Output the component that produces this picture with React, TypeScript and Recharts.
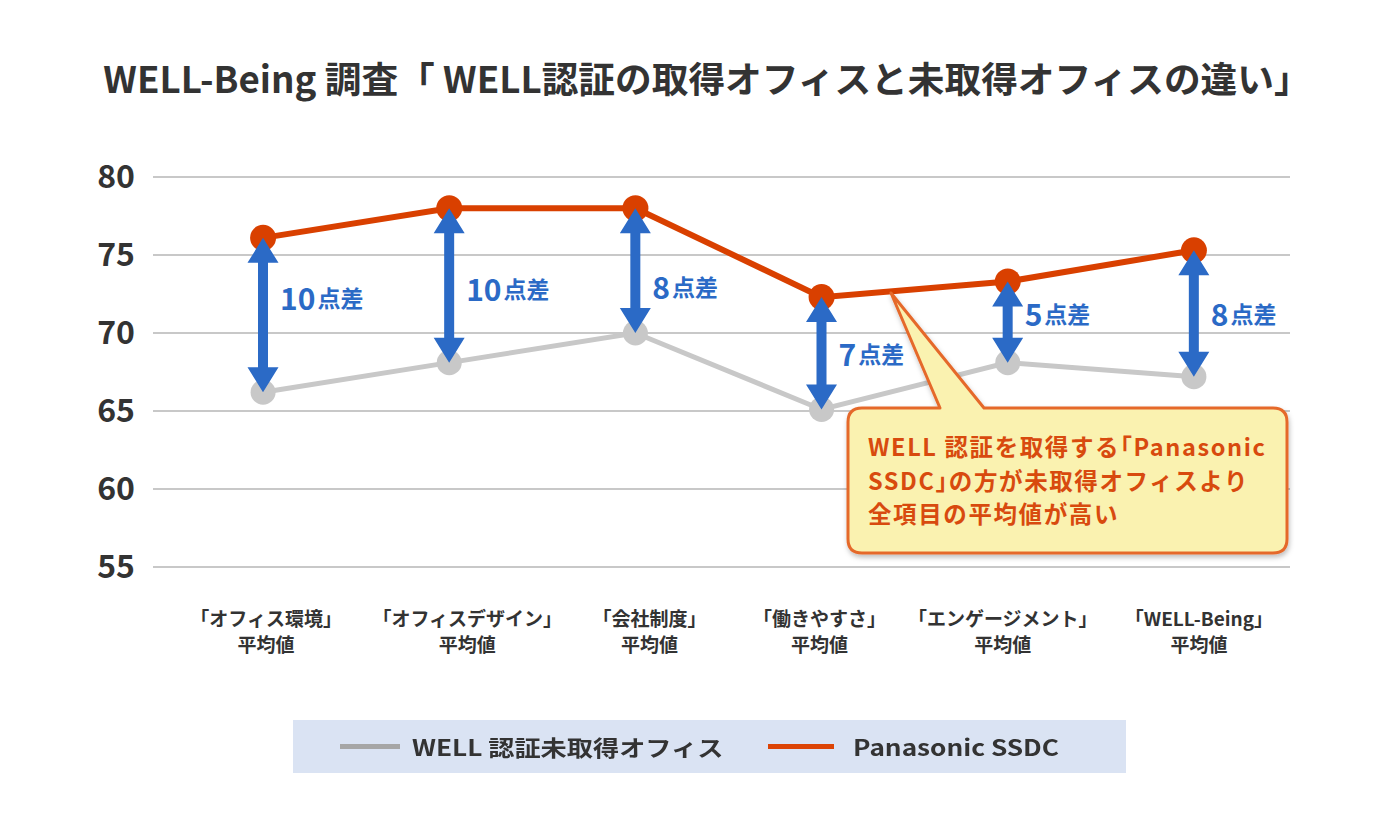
import React from "react";
import { ComposedChart, Line, Bar, XAxis, YAxis, CartesianGrid } from "recharts";

const CATEGORIES = ["「オフィス環境」", "「オフィスデザイン」", "「会社制度」", "「働きやすさ」", "「エンゲージメント」", "「WELL-Being」"];
const UNCERTIFIED = [66.2, 68.1, 70.0, 65.1, 68.1, 67.2];
const SSDC = [76.1, 78.0, 78.0, 72.3, 73.3, 75.3];
const GAP_LABELS = ["10", "10", "8", "7", "5", "8"];
// where each gap label sits, in axis units
const GAP_LABEL_AT = [72.3, 72.9, 73.0, 68.7, 71.3, 71.3];
const Y_TICKS = [55, 60, 65, 70, 75, 80];

const FONT = '"Noto Sans CJK JP", "Noto Sans", sans-serif';
const GRAY = "#C8C8C8";
const ORANGE = "#D94000";
const BLUE = "#2B6AC6";
// the original's category labels are hand-placed, not exactly under the points
const TICK_DX = [3, 18, 14, -2, -5, 5];

const data = CATEGORIES.map((name, i) => ({
  name,
  uncert: UNCERTIFIED[i],
  ssdc: SSDC[i],
  gap: GAP_LABELS[i],
  labelAt: GAP_LABEL_AT[i],
}));

const XTick = (props: any) => {
  const { x, y, payload, index } = props;
  const dx = TICK_DX[index] || 0;
  const common = { textAnchor: "middle" as const, fontSize: 19, fontWeight: 700, fill: "#333", fontFamily: FONT };
  return (
    <g transform={`translate(${x + dx},${y})`}>
      <text {...common} x={0} y={59}>{payload.value}</text>
      <text {...common} x={0} y={85}>平均値</text>
    </g>
  );
};

const ArrowShape = (props: any) => {
  const { x, y, width, height, payload } = props;
  const cx = x + width / 2;
  const top = Math.min(y, y + height);
  const bottom = Math.max(y, y + height);
  const hw = 15.5, hh = 25, sw = 5;
  const d = `M${cx},${top} L${cx + hw},${top + hh} L${cx + sw},${top + hh} L${cx + sw},${bottom - hh} L${cx + hw},${bottom - hh} L${cx},${bottom} L${cx - hw},${bottom - hh} L${cx - sw},${bottom - hh} L${cx - sw},${top + hh} L${cx - hw},${top + hh} Z`;
  const perUnit = (bottom - top) / (payload.ssdc - payload.uncert);
  const ly = top + (payload.ssdc - payload.labelAt) * perUnit;
  return (
    <g>
      <path d={d} fill={BLUE} />
      <text x={cx + 17} y={ly} dominantBaseline="central" fill={BLUE} fontWeight={700} fontFamily={FONT}>
        <tspan fontSize={30}>{payload.gap}</tspan>
        <tspan fontSize={23} dx={2}>点差</tspan>
      </text>
    </g>
  );
};

function Callout() {
  const l = 848, r = 1287, t = 408, b = 553, rad = 14;
  const tipX = 891, tipY = 293, baseL = 940, baseR = 984;
  const d = `M${l + rad},${t} L${baseL},${t} L${tipX},${tipY} L${baseR},${t} L${r - rad},${t} Q${r},${t} ${r},${t + rad} L${r},${b - rad} Q${r},${b} ${r - rad},${b} L${l + rad},${b} Q${l},${b} ${l},${b - rad} L${l},${t + rad} Q${l},${t} ${l + rad},${t} Z`;
  const lines = ["WELL 認証を取得する「Panasonic", "SSDC」の方が未取得オフィスより", "全項目の平均値が高い"];
  return (
    <svg width={1400} height={840} style={{ position: "absolute", left: 0, top: 0, pointerEvents: "none" }}>
      <defs>
        <filter id="sh" x="-10%" y="-10%" width="120%" height="130%">
          <feDropShadow dx="1" dy="3" stdDeviation="2.5" floodColor="#000" floodOpacity="0.25" />
        </filter>
      </defs>
      <path d={d} fill="#FAF2B0" stroke="#E5692B" strokeWidth={3} strokeLinejoin="round" filter="url(#sh)" />
      {lines.map((s, i) => (
        <text key={i} x={868} y={446 + i * 33.5} dominantBaseline="central" fontSize={23.5} fontWeight={700}
          fill="#D84A0E" fontFamily={FONT} letterSpacing={1.6} style={{ fontFeatureSettings: '"halt"' }}>
          {s}
        </text>
      ))}
    </svg>
  );
}

const legendText: React.CSSProperties = {
  position: "absolute", top: 11, fontSize: 22, fontWeight: 700, color: "#333", lineHeight: "30px",
  whiteSpace: "nowrap", transform: "scaleX(1.19)", transformOrigin: "left center",
};

export default function App() {
  return (
    <div style={{ position: "absolute", left: 0, top: 0, width: 1400, height: 840, background: "#fff", fontFamily: FONT }}>
      <div style={{ position: "absolute", left: 7, top: 55, width: 1400, textAlign: "center", fontSize: 36.7, fontWeight: 700, color: "#333", lineHeight: "44px", whiteSpace: "nowrap" }}>
        WELL-Being 調査「 WELL認証の取得オフィスと未取得オフィスの違い」
      </div>
      <div style={{ position: "absolute", left: 0, top: 0 }}>
        <ComposedChart width={1400} height={840} data={data} margin={{ top: 177, right: 110, bottom: 183, left: 93 }}>
          <CartesianGrid vertical={false} stroke={GRAY} strokeWidth={2} />
          <XAxis dataKey="name" axisLine={false} tickLine={false} tickSize={0} tickMargin={0} height={90}
            padding={{ left: 17, right: 3 }} tick={<XTick />} interval={0} />
          <YAxis domain={[55, 80]} ticks={Y_TICKS} axisLine={false} tickLine={false} tickSize={0} tickMargin={18}
            width={60} tick={{ fontSize: 32, fontWeight: 700, fill: "#333", fontFamily: FONT }} />
          <Line dataKey="uncert" stroke={GRAY} strokeWidth={5} dot={{ r: 12.5, fill: GRAY, stroke: "none" }}
            activeDot={false} isAnimationActive={false} />
          <Line dataKey="ssdc" stroke={ORANGE} strokeWidth={6} dot={{ r: 13, fill: ORANGE, stroke: "none" }}
            activeDot={false} isAnimationActive={false} />
          <Bar dataKey={(d: any) => [d.uncert, d.ssdc]} barSize={32} shape={<ArrowShape />}
            isAnimationActive={false} zIndex={600} />
        </ComposedChart>
      </div>
      <Callout />
      <div style={{ position: "absolute", left: 293, top: 720, width: 833, height: 53, background: "#DAE3F3" }}>
        <div style={{ position: "absolute", left: 47, top: 24, width: 60, height: 5, background: "#A6A6A6" }} />
        <div style={{ ...legendText, left: 119 }}>WELL 認証未取得オフィス</div>
        <div style={{ position: "absolute", left: 475, top: 24, width: 66, height: 5, background: "#DC4405" }} />
        <div style={{ ...legendText, left: 560 }}>Panasonic SSDC</div>
      </div>
    </div>
  );
}
